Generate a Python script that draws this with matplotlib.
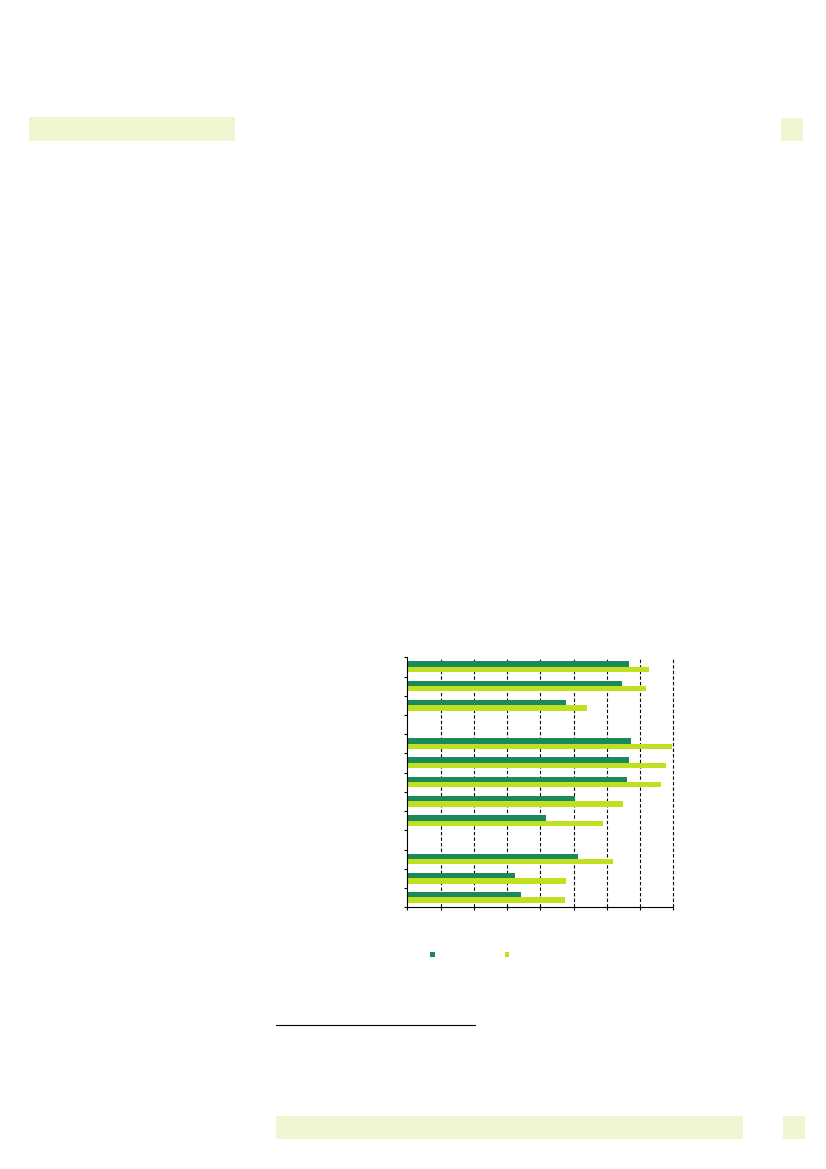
import numpy as np
import matplotlib
matplotlib.use("Agg")
import matplotlib.pyplot as plt
from matplotlib.patches import Rectangle
from matplotlib.lines import Line2D

# 13 slots, two of them empty separators (None)
rows = ["r1", "r2", "r3", "", "r5", "r6", "r7", "r8", "r9", "", "r11", "r12", "r13"]
series_a = [66.8, 64.6, 47.7, None, 67.3, 66.8, 66.0, 50.4, 41.7, None, 51.3, 32.5, 34.2]
series_b = [72.8, 71.7, 54.0, None, 79.5, 77.8, 76.4, 64.8, 58.9, None, 61.8, 47.7, 47.4]
x_ticks = [0, 10, 20, 30, 40, 50, 60, 70, 80]

DARK = "#1b8a58"
LIGHT = "#bfe01e"
PALE = "#eff5d1"

fig = plt.figure(figsize=(8.26, 11.69), dpi=100)
W, H = 826, 1169

def px_rect(x0, y0, x1, y1, color):
    fig.add_artist(Rectangle((x0 / W, 1 - y1 / H), (x1 - x0) / W, (y1 - y0) / H,
                             transform=fig.transFigure, color=color, lw=0))

# page decorations
px_rect(29, 117, 235, 141, PALE)
px_rect(781, 118, 803, 141, PALE)
px_rect(276, 1116, 743, 1139, PALE)
px_rect(783, 1116, 805, 1139, PALE)
fig.add_artist(Line2D([276 / W, 475 / W], [1 - 1025 / H] * 2, transform=fig.transFigure,
                      color="black", lw=0.8))

ax = fig.add_axes([407.3 / W, 1 - 907.3 / H, 266 / W, 250 / H])
y = np.arange(len(rows))
h = 0.28
for i in range(len(rows)):
    if series_a[i] is not None:
        ax.barh(y[i] - 0.15, series_a[i], height=h, color=DARK, lw=0)
        ax.barh(y[i] + 0.13, series_b[i], height=h, color=LIGHT, lw=0)

ax.set_xlim(0, 80)
ax.set_ylim(len(rows) - 0.5, -0.5)
ax.set_xticks(x_ticks)
ax.set_yticks(np.arange(len(rows) + 1) - 0.5)
ax.tick_params(labelleft=False, labelbottom=False, length=2.5, width=0.8, direction="out")
for v in x_ticks[1:]:
    ax.axvline(v, color="black", lw=0.8, ls=(0, (3, 2)), zorder=0, clip_on=False)
ax.spines["top"].set_visible(False)
ax.spines["right"].set_visible(False)
ax.spines["left"].set_linewidth(0.8)
ax.spines["bottom"].set_linewidth(0.8)

# legend markers
px_rect(429.5, 951.5, 434.5, 956.5, DARK)
px_rect(504.5, 951.5, 509.5, 956.5, LIGHT)

fig.savefig("out.png", dpi=100)
